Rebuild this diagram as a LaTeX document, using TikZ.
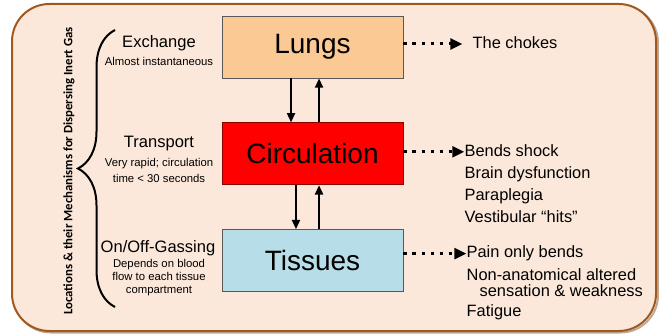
\documentclass[tikz,border=0pt]{standalone}
\usepackage{fontspec}
\setmainfont{Liberation Sans}
\newfontfamily\sidefont{Carlito}
\usetikzlibrary{positioning,arrows.meta,calc,decorations.pathreplacing}

\definecolor{panelfill}{HTML}{FCE8DA}
\definecolor{paneledge}{HTML}{A0581E}
\definecolor{lungfill}{HTML}{FAC994}
\definecolor{tissuefill}{HTML}{B7DEE8}

\begin{document}
\begin{tikzpicture}[
    x=0.75pt, y=-0.75pt,
    node distance=33pt and 45pt,
    organ/.style={draw=black!65, line width=0.6pt, inner sep=0pt,
        minimum width=135.75pt, minimum height=46.5pt,
        font=\fontsize{21}{25}\selectfont},
    stage/.style={inner sep=0pt, align=center, font=\fontsize{12.4}{15}\selectfont},
    stagenote/.style={inner sep=0pt, align=center},
    effect/.style={inner sep=0pt, anchor=west, align=left,
        text height=9pt, text depth=2.6pt, font=\fontsize{12.3}{15}\selectfont},
    effectpair/.style={inner sep=0pt, anchor=west, align=left,
        font=\fontsize{12.3}{12}\selectfont},
    sidelabel/.style={inner sep=0pt, rotate=90,
        font=\sidefont\bfseries\fontsize{9.6}{11}\selectfont},
    brace/.style={decorate, decoration={brace, amplitude=27.75pt}, line width=1.5pt},
    arrow/.style={-{Triangle[length=7pt, width=6pt]}, line width=1.5pt},
    dotarrow/.style={-{Triangle[length=9pt, width=8pt]}, line width=2.25pt,
        dash pattern=on 2.4pt off 4.4pt}
]
\useasboundingbox (0,0) rectangle (659,334);

% ---- Panel ----
\draw[paneledge!70!black, opacity=0.45, line width=1.5pt, rounded corners=28pt]
    (13.5,5.5) rectangle (658,332.5);
\draw[fill=panelfill, draw=paneledge, line width=1.5pt, rounded corners=28pt]
    (12,4) rectangle (656,331);

% ---- Organs ----
\node[organ, fill=lungfill] (lungs) at (312.5,47) {Lungs};
\node[organ, fill=red, draw=red!55!black, below=of lungs] (circ) {Circulation};
\node[organ, fill=tissuefill, below=of circ] (tissues) {Tissues};

% ---- Stages (left) ----
\node[sidelabel] (side) at (69,171) {Locations \& their Mechanisms for Dispersing Inert Gas};
\draw[brace] (115,307) -- (115,30);

\node[stage] (exchange) at (159,43) {Exchange};
\node[stagenote, font=\fontsize{8.5}{12}\selectfont] (exchnote) at (159,61)
    {Almost instantaneous};
\node[stage] (transport) at (159,144) {Transport};
\node[stagenote, font=\fontsize{8.5}{12}\selectfont] (transnote) at (159,170)
    {Very rapid; circulation\\time < 30 seconds};
\node[stage] (gassing) at (158,248) {On/Off-Gassing};
\node[stagenote, font=\fontsize{8.5}{9.75}\selectfont] (gasnote) at (159,278)
    {Depends on blood\\flow to each tissue\\compartment};

% ---- Effects (right) ----
\node[effect, right=51.75pt of lungs, yshift=2.25pt] (chokes) {The chokes};
\node[effect, right=45.75pt of circ, yshift=1.5pt] (bends) {Bends shock};
\node[effect] (brain) at ([yshift=-16.5pt]bends.west) {Brain dysfunction};
\node[effect] (para) at ([yshift=-16.5pt]brain.west) {Paraplegia};
\node[effect] (vest) at ([yshift=-17pt]para.west) {Vestibular ``hits''};
\node[effect, right=47.25pt of tissues, yshift=5.25pt] (pain) {Pain only bends};
\node[effectpair] (nonanat) at ([yshift=-21.75pt]pain.west)
    {Non-anatomical altered\\\hspace*{9.75pt}sensation \& weakness};
\node[effect] (fatigue) at ([yshift=-44pt]pain.west) {Fatigue};

% Organ arrows
\draw[arrow] ([xshift=-16.1pt]lungs.south) -- ([xshift=-16.1pt]circ.north);
\draw[arrow] ([xshift=4.9pt]circ.north) -- ([xshift=4.9pt]lungs.south);
\draw[arrow] ([xshift=-12.4pt]circ.south) -- ([xshift=-12.4pt]tissues.north);
\draw[arrow] ([xshift=4.9pt]tissues.north) -- ([xshift=4.9pt]circ.south);

% Effect arrows
\draw[dotarrow, shorten >=7.5pt] ([yshift=2.25pt]lungs.east) -- (chokes.west);
\draw[dotarrow] ([yshift=1.5pt]circ.east) -- (bends.west);
\draw[dotarrow] ([yshift=5.25pt]tissues.east) -- (pain.west);
\end{tikzpicture}
\end{document}
